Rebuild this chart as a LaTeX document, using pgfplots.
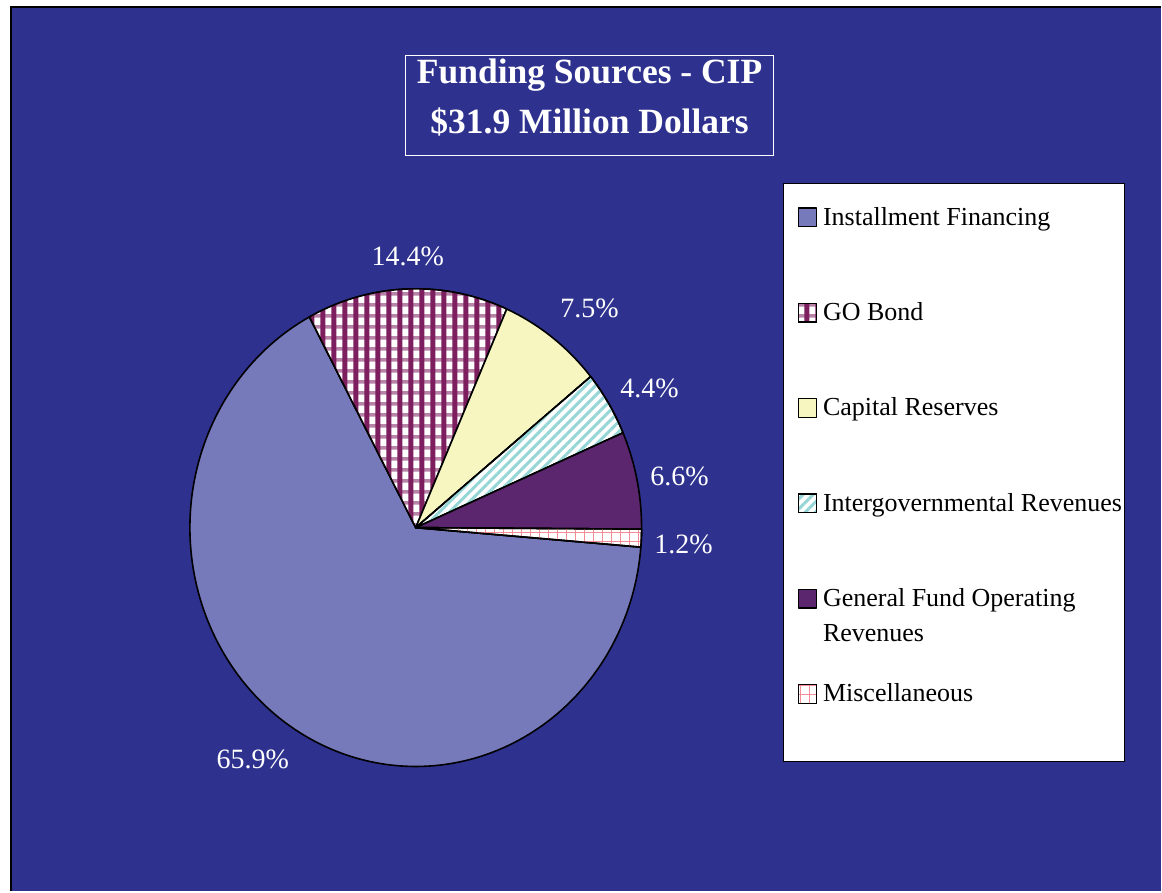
\documentclass[border=0pt]{standalone}
\usepackage{fontspec}
\setmainfont{Liberation Serif}
\usepackage{pgfplots}
\pgfplotsset{compat=1.18}
\usetikzlibrary{patterns,patterns.meta}

\definecolor{navy}{RGB}{46,50,142}
\definecolor{instblue}{RGB}{118,122,186}
\definecolor{gomaroon}{RGB}{125,30,95}
\definecolor{capyellow}{RGB}{247,245,192}
\definecolor{stripecyan}{RGB}{150,214,214}
\definecolor{genpurple}{RGB}{92,38,110}
\definecolor{mischatch}{RGB}{245,140,150}

\tikzdeclarepattern{
  name=gocheck,
  type=colored,
  bounding box={(0pt,0pt) and (11pt,11pt)},
  tile size={(11pt,11pt)},
  code={
    \fill[white] (0pt,0pt) rectangle (11pt,11pt);
    \fill[gomaroon!55] (0pt,3.5pt) rectangle (11pt,7pt);
    \fill[gomaroon] (2.5pt,0pt) rectangle (7.5pt,11pt);
  }
}

% shares in percent (clockwise from the first slice)
\def\pA{65.9}% Installment Financing
\def\pB{14.4}% GO Bond
\def\pC{7.5}%  Capital Reserves
\def\pD{4.4}%  Intergovernmental Revenues
\def\pE{6.6}%  General Fund Operating Revenues
\def\pF{1.2}%  Miscellaneous
\def\startang{355.32}
\pgfmathsetmacro\aA{\startang-3.6*\pA}
\pgfmathsetmacro\aB{\aA-3.6*\pB}
\pgfmathsetmacro\aC{\aB-3.6*\pC}
\pgfmathsetmacro\aD{\aC-3.6*\pD}
\pgfmathsetmacro\aE{\aD-3.6*\pE}
\pgfmathsetmacro\aF{\aE-3.6*\pF}
\def\cx{416}\def\cy{364}\def\rx{226}\def\ry{239}

\begin{document}
\begin{tikzpicture}
\fill[white] (-11pt,0pt) rectangle (1151pt,892pt);
\begin{axis}[
  scale only axis, width=1151pt, height=885pt,
  xmin=11, xmax=1162, ymin=0, ymax=885,
  hide axis, clip=false,
  title={Funding Sources - CIP\\\$31.9 Million Dollars},
  title style={at={(0.503,0.8905)}, anchor=center, align=center, text=white,
    font=\bfseries\fontsize{35.5}{50}\selectfont, inner sep=0pt},
  legend style={at={(0.6838,0.7740)}, anchor=north west, draw=none, fill=none,
    inner sep=0pt, row sep=71.4pt, column sep=6pt,
    font=\fontsize{26}{35}\selectfont,
    cells={anchor=base west},
    nodes={inner sep=0pt, text height=18pt, text depth=6pt}},
  legend image code/.code={\draw[#1, line width=1.3pt] (0pt,-1.5pt) rectangle (18pt,17pt);},
  slice/.style={draw=black, line width=1.6pt, line join=round},
]
\fill[navy] (rel axis cs:0,0) rectangle (rel axis cs:1,1);
\draw[black, line width=1.5pt] (axis cs:11,0) -- (axis cs:11,885) -- (axis cs:1162,885);

\addplot[slice, fill=instblue, domain=\aA:\startang, samples=160]
  ({\cx+\rx*cos(x)},{\cy+\ry*sin(x)}) -- (axis cs:\cx,\cy) -- cycle;
\addlegendentry{Installment Financing}
\addplot[slice, fill=white, postaction={pattern=gocheck}, domain=\aB:\aA, samples=50]
  ({\cx+\rx*cos(x)},{\cy+\ry*sin(x)}) -- (axis cs:\cx,\cy) -- cycle;
\addlegendentry{GO Bond}
\addplot[slice, fill=capyellow, domain=\aC:\aB, samples=40]
  ({\cx+\rx*cos(x)},{\cy+\ry*sin(x)}) -- (axis cs:\cx,\cy) -- cycle;
\addlegendentry{Capital Reserves}
\addplot[slice, fill=white, postaction={pattern={Lines[angle=45,distance=7pt,line width=3pt]}, pattern color=stripecyan}, domain=\aD:\aC, samples=30]
  ({\cx+\rx*cos(x)},{\cy+\ry*sin(x)}) -- (axis cs:\cx,\cy) -- cycle;
\addlegendentry{Intergovernmental Revenues}
\addplot[slice, fill=genpurple, domain=\aE:\aD, samples=40]
  ({\cx+\rx*cos(x)},{\cy+\ry*sin(x)}) -- (axis cs:\cx,\cy) -- cycle;
\addlegendentry{\parbox[t]{300pt}{General Fund Operating\\Revenues}}
\addplot[slice, fill=white, postaction={pattern={Hatch[angle=0,distance=9pt,line width=0.7pt]}, pattern color=mischatch}, domain=\aF:\aE, samples=20]
  ({\cx+\rx*cos(x)},{\cy+\ry*sin(x)}) -- (axis cs:\cx,\cy) -- cycle;
\addlegendentry{Miscellaneous}

\addplot[draw=none, mark=none, forget plot, point meta=explicit,
  nodes near coords={\pgfmathprintnumber[assume math mode=true,fixed,fixed zerofill,precision=1]{\pgfplotspointmeta}\%},
  every node near coord/.append style={anchor=center, text=white, font=\fontsize{28}{34}\selectfont}]
  table[meta=p] {
x y p
408 635 14.4
590 583 7.5
650 503 4.4
680 415 6.6
684 347 1.2
253 132 65.9
};

\draw[white, line width=1pt] (axis cs:406,836) rectangle (axis cs:774,736);
\draw[black, line width=1pt, fill=white] (axis cs:784,708) rectangle (axis cs:1125,130);
\end{axis}
\end{tikzpicture}
\end{document}
